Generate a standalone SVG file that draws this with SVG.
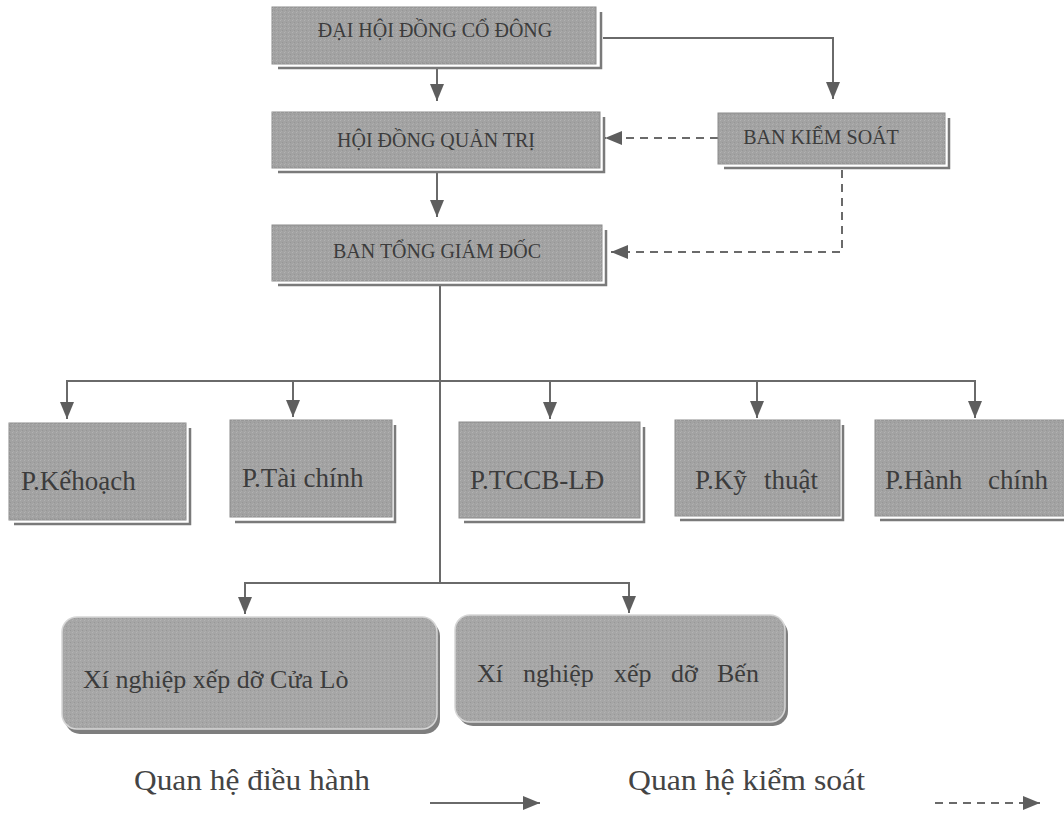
<svg xmlns="http://www.w3.org/2000/svg" width="1064" height="818" viewBox="0 0 1064 818">
<style>
  .box{fill:#a2a2a2;stroke:#8c8c8c;stroke-width:1}
  .tex{fill:url(#tex)}
  .sh{fill:none;stroke:#7a7a7a;stroke-width:2.5}
  .rbox{fill:#a6a6a6;stroke:#d6d6d6;stroke-width:1.5}
  .rsh{fill:#7e7e7e}
  .t{font-family:"Liberation Serif","Times New Roman",serif;fill:#3c3c3c}
  .cap{font-size:20px}
  .big{font-size:27px}
  .mid{font-size:26px}
  .leg{font-size:30px;fill:#444}
  .ln{fill:none;stroke:#6a6a6a;stroke-width:2}
  .dash{fill:none;stroke:#6a6a6a;stroke-width:2;stroke-dasharray:8 6}
</style>
<defs>
  <pattern id="tex" width="4" height="4" patternUnits="userSpaceOnUse">
    <rect x="0" y="0" width="1" height="1" fill="#bdbdbd" opacity="0.6"/>
    <rect x="2" y="2" width="1" height="1" fill="#8e8e8e" opacity="0.6"/>
    <rect x="1" y="3" width="1" height="1" fill="#b5b5b5" opacity="0.5"/>
  </pattern>
  <marker id="ah" markerWidth="17" markerHeight="14" refX="17" refY="7" orient="auto" markerUnits="userSpaceOnUse">
    <path d="M0,0 L17,7 L0,14 Z" fill="#5e5e5e"/>
  </marker>
</defs>
<rect width="1064" height="818" fill="#ffffff"/>

<g id="connectors">
  <line class="ln" x1="437" y1="68" x2="437" y2="101" marker-end="url(#ah)"/>
  <polyline class="ln" points="603,38 833,38 833,99" marker-end="url(#ah)"/>
  <line class="dash" x1="718" y1="138" x2="605" y2="138" marker-end="url(#ah)"/>
  <line class="ln" x1="437" y1="173" x2="437" y2="217" marker-end="url(#ah)"/>
  <polyline class="dash" points="842,170 842,252 611,252" marker-end="url(#ah)"/>
  <line class="ln" x1="440" y1="286" x2="440" y2="584"/>
  <line class="ln" x1="66" y1="381" x2="976" y2="381"/>
  <line class="ln" x1="67" y1="381" x2="67" y2="419" marker-end="url(#ah)"/>
  <line class="ln" x1="293" y1="381" x2="293" y2="417" marker-end="url(#ah)"/>
  <line class="ln" x1="550" y1="381" x2="550" y2="419" marker-end="url(#ah)"/>
  <line class="ln" x1="757" y1="381" x2="757" y2="418" marker-end="url(#ah)"/>
  <line class="ln" x1="975" y1="381" x2="975" y2="418" marker-end="url(#ah)"/>
  <polyline class="ln" points="441,583 245,583 245,614" marker-end="url(#ah)"/>
  <polyline class="ln" points="439,583 629,583 629,613" marker-end="url(#ah)"/>
</g>

<g id="n-dhdcd">
  <polyline class="sh" points="278,68 601,68 601,12"/>
  <rect class="box" x="272" y="7" width="324" height="57"/>
  <rect class="tex" x="272" y="7" width="324" height="57"/>
  <text class="t cap" x="435" y="37" text-anchor="middle">ĐẠI HỘI ĐỒNG CỔ ĐÔNG</text>
</g>

<g id="n-hdqt">
  <polyline class="sh" points="278,172 604,172 604,117"/>
  <rect class="box" x="272" y="112" width="328" height="56"/>
  <rect class="tex" x="272" y="112" width="328" height="56"/>
  <text class="t cap" x="436" y="147" text-anchor="middle">HỘI ĐỒNG QUẢN TRỊ</text>
</g>

<g id="n-bks">
  <polyline class="sh" points="724,168 949,168 949,118"/>
  <rect class="box" x="718" y="113" width="227" height="51"/>
  <rect class="tex" x="718" y="113" width="227" height="51"/>
  <text class="t cap" x="821" y="144" text-anchor="middle">BAN KIỂM SOÁT</text>
</g>

<g id="n-btgd">
  <polyline class="sh" points="278,285 606,285 606,230"/>
  <rect class="box" x="272" y="225" width="330" height="56"/>
  <rect class="tex" x="272" y="225" width="330" height="56"/>
  <text class="t cap" x="437" y="258" text-anchor="middle">BAN TỔNG GIÁM ĐỐC</text>
</g>

<g id="n-kehoach">
  <polyline class="sh" points="14,524 190,524 190,428"/>
  <rect class="box" x="9" y="423" width="177" height="97"/>
  <rect class="tex" x="9" y="423" width="177" height="97"/>
  <text class="t big" x="21" y="490">P.Kếhoạch</text>
</g>

<g id="n-taichinh">
  <polyline class="sh" points="235,522 395,522 395,425"/>
  <rect class="box" x="230" y="420" width="162" height="97"/>
  <rect class="tex" x="230" y="420" width="162" height="97"/>
  <text class="t big" x="242" y="487">P.Tài chính</text>
</g>

<g id="n-tccb">
  <polyline class="sh" points="464,522 644,522 644,427"/>
  <rect class="box" x="459" y="422" width="181" height="96"/>
  <rect class="tex" x="459" y="422" width="181" height="96"/>
  <text class="t big" x="470" y="489">P.TCCB-LĐ</text>
</g>

<g id="n-kythuat">
  <polyline class="sh" points="680,520 843,520 843,425"/>
  <rect class="box" x="675" y="420" width="165" height="96"/>
  <rect class="tex" x="675" y="420" width="165" height="96"/>
  <text class="t big" y="489"><tspan x="695">P.Kỹ</tspan><tspan x="764">thuật</tspan></text>
</g>

<g id="n-hanhchinh">
  <polyline class="sh" points="880,520 1070,520"/>
  <rect class="box" x="875" y="420" width="195" height="96"/>
  <rect class="tex" x="875" y="420" width="195" height="96"/>
  <text class="t big" y="489"><tspan x="885">P.Hành</tspan><tspan x="988">chính</tspan></text>
</g>

<g id="n-cualo">
  <rect class="rsh" x="65" y="621" width="375" height="113" rx="15"/>
  <rect class="rbox" x="62" y="617" width="375" height="112" rx="15"/>
  <rect class="tex" x="63" y="618" width="373" height="110" rx="14"/>
  <text class="t mid" x="83" y="688">Xí nghiệp xếp dỡ Cửa Lò</text>
</g>

<g id="n-ben">
  <rect class="rsh" x="458" y="619" width="330" height="107" rx="15"/>
  <rect class="rbox" x="455" y="615" width="330" height="107" rx="15"/>
  <rect class="tex" x="456" y="616" width="328" height="105" rx="14"/>
  <text class="t mid" y="682"><tspan x="477">Xí</tspan><tspan x="523">nghiệp</tspan><tspan x="614">xếp</tspan><tspan x="671">dỡ</tspan><tspan x="717">Bến</tspan></text>
</g>

<g id="legend">
  <text class="t leg" x="134" y="790" textLength="236" lengthAdjust="spacingAndGlyphs">Quan hệ điều hành</text>
  <line class="ln" x1="430" y1="803" x2="540" y2="803" marker-end="url(#ah)"/>
  <text class="t leg" x="628" y="790" textLength="237" lengthAdjust="spacingAndGlyphs">Quan hệ kiểm soát</text>
  <line class="dash" x1="935" y1="803" x2="1040" y2="803" marker-end="url(#ah)"/>
</g>
</svg>
